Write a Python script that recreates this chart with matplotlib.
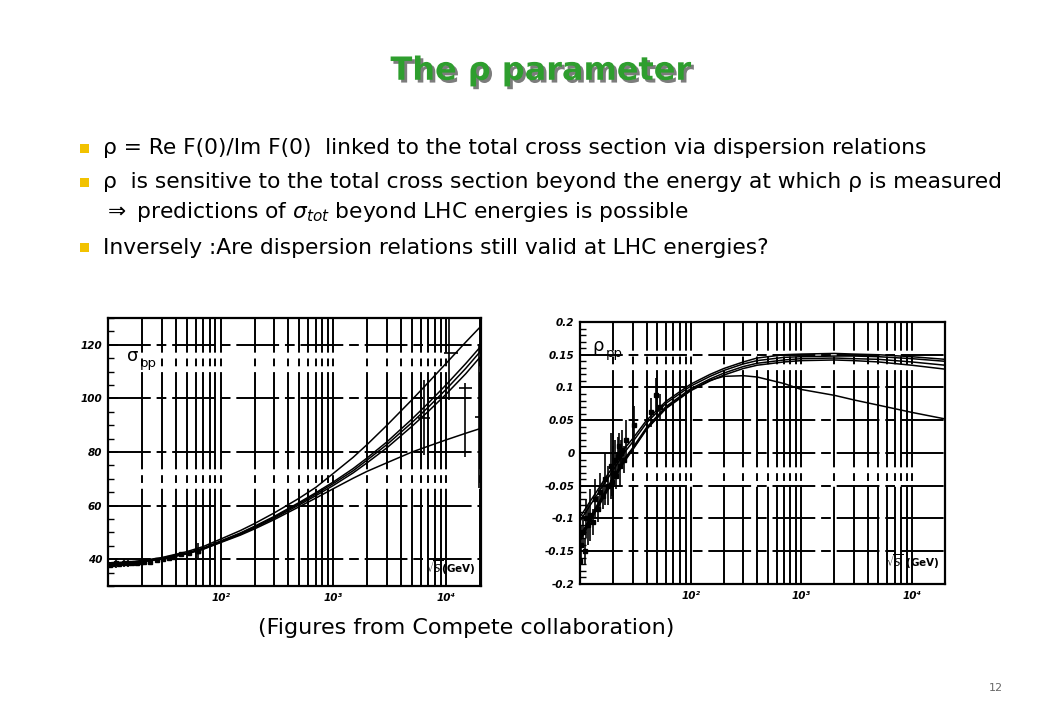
import matplotlib.pyplot as plt
import matplotlib.patheffects as pe
from matplotlib.patches import Rectangle
from matplotlib.ticker import FixedLocator, LogLocator, MultipleLocator, FuncFormatter, NullFormatter

# sqrt(s) samples for the sigma_pp fits (GeV)
sig_x = [10, 15, 20, 30, 50, 70, 100, 150, 200, 300, 500, 700, 1000,
         1500, 2000, 3000, 5000, 7000, 10000, 15000, 20000]
sig_upper = [38.6, 38.9, 39.5, 40.6, 42.8, 44.7, 47.5, 50.7, 53.3, 57.3, 62.8, 66.8, 72.0,
             78.0, 82.8, 90.0, 99.5, 106.0, 113.0, 121.0, 126.5]
sig_a = [38.5, 38.8, 39.3, 40.3, 42.3, 44.1, 46.8, 49.8, 52.3, 56.0, 61.2, 64.8, 68.8,
         73.8, 77.8, 83.8, 92.3, 98.3, 105.0, 113.0, 119.0]
sig_b = [38.4, 38.7, 39.2, 40.2, 42.2, 44.0, 46.6, 49.6, 52.0, 55.7, 60.8, 64.3, 68.2,
         73.0, 77.0, 82.8, 91.0, 96.8, 103.3, 111.2, 117.3]
sig_c = [38.3, 38.6, 39.1, 40.1, 42.1, 43.8, 46.4, 49.3, 51.7, 55.3, 60.3, 63.7, 67.5,
         72.2, 76.0, 81.6, 89.6, 95.2, 101.5, 109.2, 115.3]
sig_lower = [38.3, 38.6, 39.1, 40.0, 42.0, 43.7, 46.2, 49.0, 51.3, 54.8, 59.6, 62.8, 66.3,
             70.2, 72.8, 76.0, 80.0, 82.2, 84.5, 87.0, 88.7]

# sigma_pp measurements
sdat_x = [10.5, 11.2, 11.8, 12.5, 13.8, 15.0, 16.5, 18.0, 19.5, 21.0, 23.5, 27.4,
          30.6, 35.0, 38.9, 44.7, 52.8, 62.5, 63.0]
sdat_y = [38.0, 38.2, 38.4, 38.3, 38.5, 38.4, 38.7, 38.6, 38.9, 39.0, 39.1, 39.7,
          40.1, 40.6, 41.0, 41.8, 42.4, 43.0, 43.1]
sdat_e = [0.8, 0.6, 1.5, 0.5, 1.5, 1.2, 0.5, 0.5, 0.4, 0.3, 0.3, 0.4,
          0.3, 0.5, 0.6, 0.4, 0.4, 0.4, 3.0]
cosmic_x = [6400, 10700, 14800, 19800]
cosmic_y = [92.8, 116.9, 103.8, 92.9]
cosmic_elo = [14.0, 17.5, 25.6, 26.5]
cosmic_ehi = [14.0, 17.5, 2.0, 26.5]
cosmic_xlo = [800, 1100, 1700, 1500]
cosmic_xhi = [800, 2000, 2300, 3000]

# rho fits
rho_x = [10, 12, 14, 17, 20, 25, 30, 40, 60, 100, 150, 200, 300, 400, 700, 1000,
         2000, 3000, 5000, 10000, 20000]
rho_u1 = [-0.098, -0.077, -0.060, -0.038, -0.020, 0.006, 0.022, 0.050, 0.079, 0.105, 0.120,
          0.129, 0.139, 0.145, 0.150, 0.151, 0.152, 0.151, 0.150, 0.147, 0.143]
rho_u2 = [-0.104, -0.083, -0.066, -0.044, -0.026, 0.000, 0.017, 0.046, 0.076, 0.102, 0.117,
          0.126, 0.136, 0.141, 0.146, 0.147, 0.148, 0.148, 0.147, 0.144, 0.140]
rho_l1 = [-0.127, -0.103, -0.082, -0.058, -0.037, -0.010, 0.008, 0.039, 0.071, 0.098, 0.113,
          0.122, 0.132, 0.137, 0.142, 0.144, 0.145, 0.144, 0.143, 0.139, 0.134]
rho_l2 = [-0.134, -0.109, -0.088, -0.063, -0.042, -0.014, 0.005, 0.036, 0.068, 0.095, 0.110,
          0.119, 0.129, 0.134, 0.139, 0.141, 0.142, 0.141, 0.139, 0.134, 0.128]
rho_peak = [-0.130, -0.106, -0.085, -0.060, -0.040, -0.012, 0.006, 0.037, 0.069, 0.096, 0.111,
            0.117, 0.118, 0.116, 0.106, 0.097, 0.088, 0.081, 0.073, 0.062, 0.052]

# rho measurements
rdat_x = [10.0, 10.3, 10.6, 11.0, 11.4, 11.9, 12.4, 13.0, 13.7, 14.4, 15.2, 16.0, 17.0,
          18.0, 19.0, 19.4, 20.0, 20.6, 21.3, 22.0, 22.6, 23.0, 23.5, 24.2, 25.0, 26.0,
          30.6, 43.5, 49.0, 52.8]
rdat_y = [-0.165, -0.14, -0.12, -0.15, -0.10, -0.11, -0.095, -0.105, -0.07, -0.085, -0.06,
          -0.065, -0.04, -0.05, -0.02, -0.045, -0.03, -0.01, -0.035, -0.005, 0.01, -0.02,
          0.0, 0.005, -0.01, 0.02, 0.042, 0.062, 0.088, 0.07]
rdat_e = [0.03, 0.03, 0.025, 0.02, 0.03, 0.03, 0.04, 0.02, 0.03, 0.02, 0.03, 0.02, 0.04,
          0.03, 0.05, 0.02, 0.04, 0.03, 0.02, 0.03, 0.02, 0.03, 0.02, 0.03, 0.02, 0.03,
          0.03, 0.022, 0.026, 0.02]

decade_ticks = [1e2, 1e3, 1e4]
decade_labels = ["10\u00b2", "10\u00b3", "10\u2074"]

bullets = [
    "\u03c1 = Re F(0)/Im F(0)  linked to the total cross section via dispersion relations",
    "\u03c1  is sensitive to the total cross section beyond the energy at which \u03c1 is measured",
    "Inversely :Are dispersion relations still valid at LHC energies?",
]
bullet_y = [0.794, 0.747, 0.656]

plt.rcParams['font.family'] = ['DejaVu Sans']
fig = plt.figure(figsize=(10.4, 7.2), dpi=100)
fig.patch.set_facecolor('white')

# title
fig.text(0.52, 0.901, "The \u03c1 parameter", ha='center', va='center', fontsize=23,
         fontweight='bold', color='#2e9e2e',
         path_effects=[pe.withSimplePatchShadow(offset=(2, -2), shadow_rgbFace='#444444', alpha=0.7)])

# bullets
for txt, yy in zip(bullets, bullet_y):
    fig.add_artist(Rectangle((0.0772, yy - 0.0065), 0.0082, 0.0125, transform=fig.transFigure,
                             facecolor='#f2c200', edgecolor='none'))
    fig.text(0.099, yy, txt, ha='left', va='center', fontsize=15.7)
fig.text(0.099, 0.706, r"$\Rightarrow$ predictions of $\sigma_{tot}$ beyond LHC energies is possible",
         ha='left', va='center', fontsize=15.7)

fig.text(0.448, 0.128, "(Figures from Compete collaboration)", ha='center', va='center', fontsize=16)
fig.text(0.958, 0.044, "12", ha='center', va='center', fontsize=8, color='#666666')

vgrid_kw = dict(color='black', linewidth=1.4, dashes=(50, 3, 4, 3))
hgrid_kw = dict(color='black', linewidth=1.4, dashes=(22, 3, 5, 3))


def style_axes(ax, xlo, xhi):
    ax.set_xscale('log')
    ax.set_xlim(xlo, xhi)
    ax.xaxis.set_major_locator(FixedLocator(decade_ticks))
    ax.set_xticklabels(decade_labels)
    ax.xaxis.set_minor_locator(LogLocator(base=10, subs=range(2, 10)))
    ax.xaxis.set_minor_formatter(NullFormatter())
    ax.tick_params(axis='x', which='both', length=0, pad=5)
    ax.tick_params(axis='y', which='major', direction='in', length=7, width=1.2, pad=4)
    ax.tick_params(axis='y', which='minor', direction='in', length=4, width=1.0)
    ax.tick_params(right=False, top=False)
    for lab in ax.get_xticklabels() + ax.get_yticklabels():
        lab.set_fontsize(7.5)
        lab.set_fontstyle('italic')
        lab.set_fontweight('bold')
    ax.grid(True, axis='x', which='both', **vgrid_kw)
    ax.grid(True, axis='y', which='major', **hgrid_kw)
    ax.set_axisbelow(True)
    for sp in ax.spines.values():
        sp.set_linewidth(1.6)


# left: sigma_pp
ax1 = fig.add_axes([0.1038, 0.1861, 0.3587, 0.3722])
for ys in [sig_upper, sig_a, sig_b, sig_c, sig_lower]:
    ax1.plot(sig_x, ys, color='black', linewidth=1.1)
ax1.errorbar(sdat_x, sdat_y, yerr=sdat_e, fmt='s', color='black', markersize=2.5,
             elinewidth=1.2, capsize=0)
ax1.errorbar(cosmic_x, cosmic_y, yerr=[cosmic_elo, cosmic_ehi], xerr=[cosmic_xlo, cosmic_xhi],
             fmt='none', ecolor='black', elinewidth=1.2, capsize=0)
ax1.set_ylim(30, 130)
ax1.yaxis.set_major_locator(FixedLocator([40, 60, 80, 100, 120]))
ax1.yaxis.set_minor_locator(MultipleLocator(5))
style_axes(ax1, 10, 2.05e4)
ax1.text(0.05, 0.86, "\u03c3", transform=ax1.transAxes, fontsize=13, va='center')
ax1.text(0.085, 0.83, "pp", transform=ax1.transAxes, fontsize=9.5, va='center')
ax1.text(0.985, 0.035, r"$\sqrt{S}$(GeV)", transform=ax1.transAxes, fontsize=7.5,
         ha='right', va='bottom', fontweight='bold')

# right: rho
ax2 = fig.add_axes([0.5577, 0.1889, 0.351, 0.3639])
for ys in [rho_u1, rho_u2, rho_l1, rho_l2, rho_peak]:
    ax2.plot(rho_x, ys, color='black', linewidth=1.1)
ax2.errorbar(rdat_x, rdat_y, yerr=rdat_e, fmt='s', color='black', markersize=2.5,
             elinewidth=1.2, capsize=0)
ax2.set_ylim(-0.2, 0.2)
ax2.yaxis.set_major_locator(MultipleLocator(0.05))
ax2.yaxis.set_minor_locator(MultipleLocator(0.01))
ax2.yaxis.set_major_formatter(FuncFormatter(lambda v, p: "%g" % round(v, 3) if abs(v) > 1e-9 else "0"))
style_axes(ax2, 10, 2e4)
ax2.text(0.035, 0.91, "\u03c1", transform=ax2.transAxes, fontsize=13, va='center')
ax2.text(0.07, 0.88, "pp", transform=ax2.transAxes, fontsize=9.5, va='center')
ax2.text(0.985, 0.05, r"$\sqrt{S}$ (GeV)", transform=ax2.transAxes, fontsize=7.5,
         ha='right', va='bottom', fontweight='bold')

fig.savefig('out.png', dpi=100, facecolor='white')
